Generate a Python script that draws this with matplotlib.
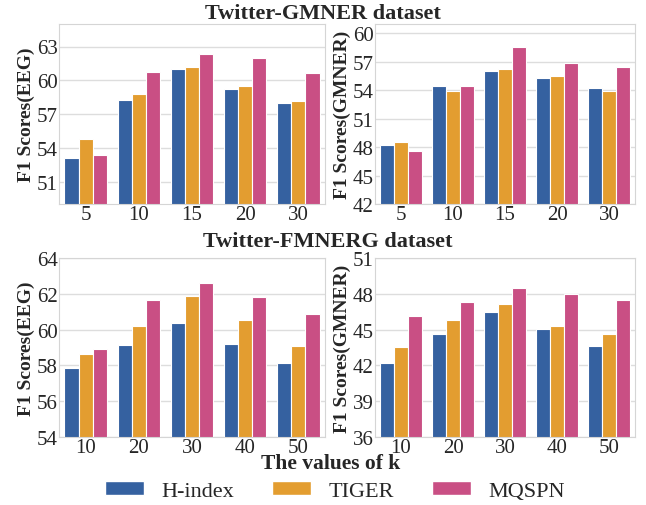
import numpy as np
import matplotlib
matplotlib.use("Agg")
import matplotlib.pyplot as plt
import seaborn as sns
from matplotlib.patches import Patch

sns.set_style("whitegrid")
plt.rcParams['font.family'] = ['Liberation Serif', 'DejaVu Serif']

methods = ["H-index", "TIGER", "MQSPN"]
colors = ["#3561a0", "#e39d30", "#c94f84"]

# Twitter-GMNER
k_gmner = ["5", "10", "15", "20", "30"]
gmner_eeg = {
    "H-index": [53.07, 58.26, 61.01, 59.18, 58.0],
    "TIGER":   [54.79, 58.82, 61.22, 59.53, 58.14],
    "MQSPN":   [53.37, 60.69, 62.35, 61.96, 60.63],
}
gmner_gmner = {
    "H-index": [48.22, 54.48, 55.99, 55.33, 54.24],
    "TIGER":   [48.50, 53.95, 56.28, 55.47, 53.95],
    "MQSPN":   [47.59, 54.41, 58.60, 56.91, 56.42],
}

# Twitter-FMNERG
k_fmnerg = ["10", "20", "30", "40", "50"]
fmnerg_eeg = {
    "H-index": [57.87, 59.12, 60.37, 59.21, 58.15],
    "TIGER":   [58.64, 60.22, 61.88, 60.52, 59.08],
    "MQSPN":   [58.92, 61.65, 62.62, 61.82, 60.87],
}
fmnerg_gmner = {
    "H-index": [42.20, 44.66, 46.45, 45.05, 43.63],
    "TIGER":   [43.54, 45.78, 47.15, 45.33, 44.66],
    "MQSPN":   [46.14, 47.31, 48.51, 48.01, 47.48],
}

W, H = 646, 506
fig = plt.figure(figsize=(W / 100, H / 100), dpi=100)


def px_axes(x0, y0, x1, y1):
    return fig.add_axes([x0 / W, 1 - y1 / H, (x1 - x0) / W, (y1 - y0) / H])


def draw(ax, cats, data, ylim, yticks, ylabel):
    x = np.arange(len(cats))
    w = 0.8 / 3
    for i, m in enumerate(methods):
        ax.bar(x + (i - 1) * w, data[m], width=w, color=colors[i],
               edgecolor="white", linewidth=0.8, zorder=2)
    ax.set_xticks(x)
    ax.set_xticklabels(cats)
    ax.set_xlim(-0.5, len(cats) - 0.5)
    ax.set_ylim(*ylim)
    ax.set_yticks(yticks)
    ax.tick_params(axis="both", labelsize=15, pad=1, length=0)
    ax.set_ylabel(ylabel, fontsize=14, fontweight="bold", labelpad=1)
    ax.grid(axis="x", visible=False)
    ax.grid(axis="y", color="#dddddd", linewidth=1)
    ax.set_axisbelow(True)
    for s in ax.spines.values():
        s.set_color("#d5d5d5")


ax1 = px_axes(59, 25, 325, 205)
draw(ax1, k_gmner, gmner_eeg, (49, 65), [51, 54, 57, 60, 63], "F1 Scores(EEG)")
ax2 = px_axes(375, 25, 635, 205)
draw(ax2, k_gmner, gmner_gmner, (42, 61), [42, 45, 48, 51, 54, 57, 60], "F1 Scores(GMNER)")
ax3 = px_axes(59, 259, 325, 438)
draw(ax3, k_fmnerg, fmnerg_eeg, (54, 64), [54, 56, 58, 60, 62, 64], "F1 Scores(EEG)")
ax4 = px_axes(375, 259, 635, 438)
draw(ax4, k_fmnerg, fmnerg_gmner, (36, 51), [36, 39, 42, 45, 48, 51], "F1 Scores(GMNER)")

fig.text(323 / W, 1 - 14 / H, "Twitter-GMNER dataset", ha="center", va="center",
         fontsize=16, fontweight="bold")
fig.text(328 / W, 1 - 242 / H, "Twitter-FMNERG dataset", ha="center", va="center",
         fontsize=16, fontweight="bold")
fig.text(331 / W, 1 - 464 / H, "The values of k", ha="center", va="center",
         fontsize=15.5, fontweight="bold")

handles = [Patch(facecolor=c, edgecolor="white", label=m) for m, c in zip(methods, colors)]
fig.legend(handles=handles, loc="center", bbox_to_anchor=(335 / W, 1 - 492 / H),
           ncol=3, frameon=False, fontsize=16, handlelength=1.75, handleheight=0.6,
           columnspacing=1.7, handletextpad=0.8)

fig.savefig("out.png", dpi=100)
